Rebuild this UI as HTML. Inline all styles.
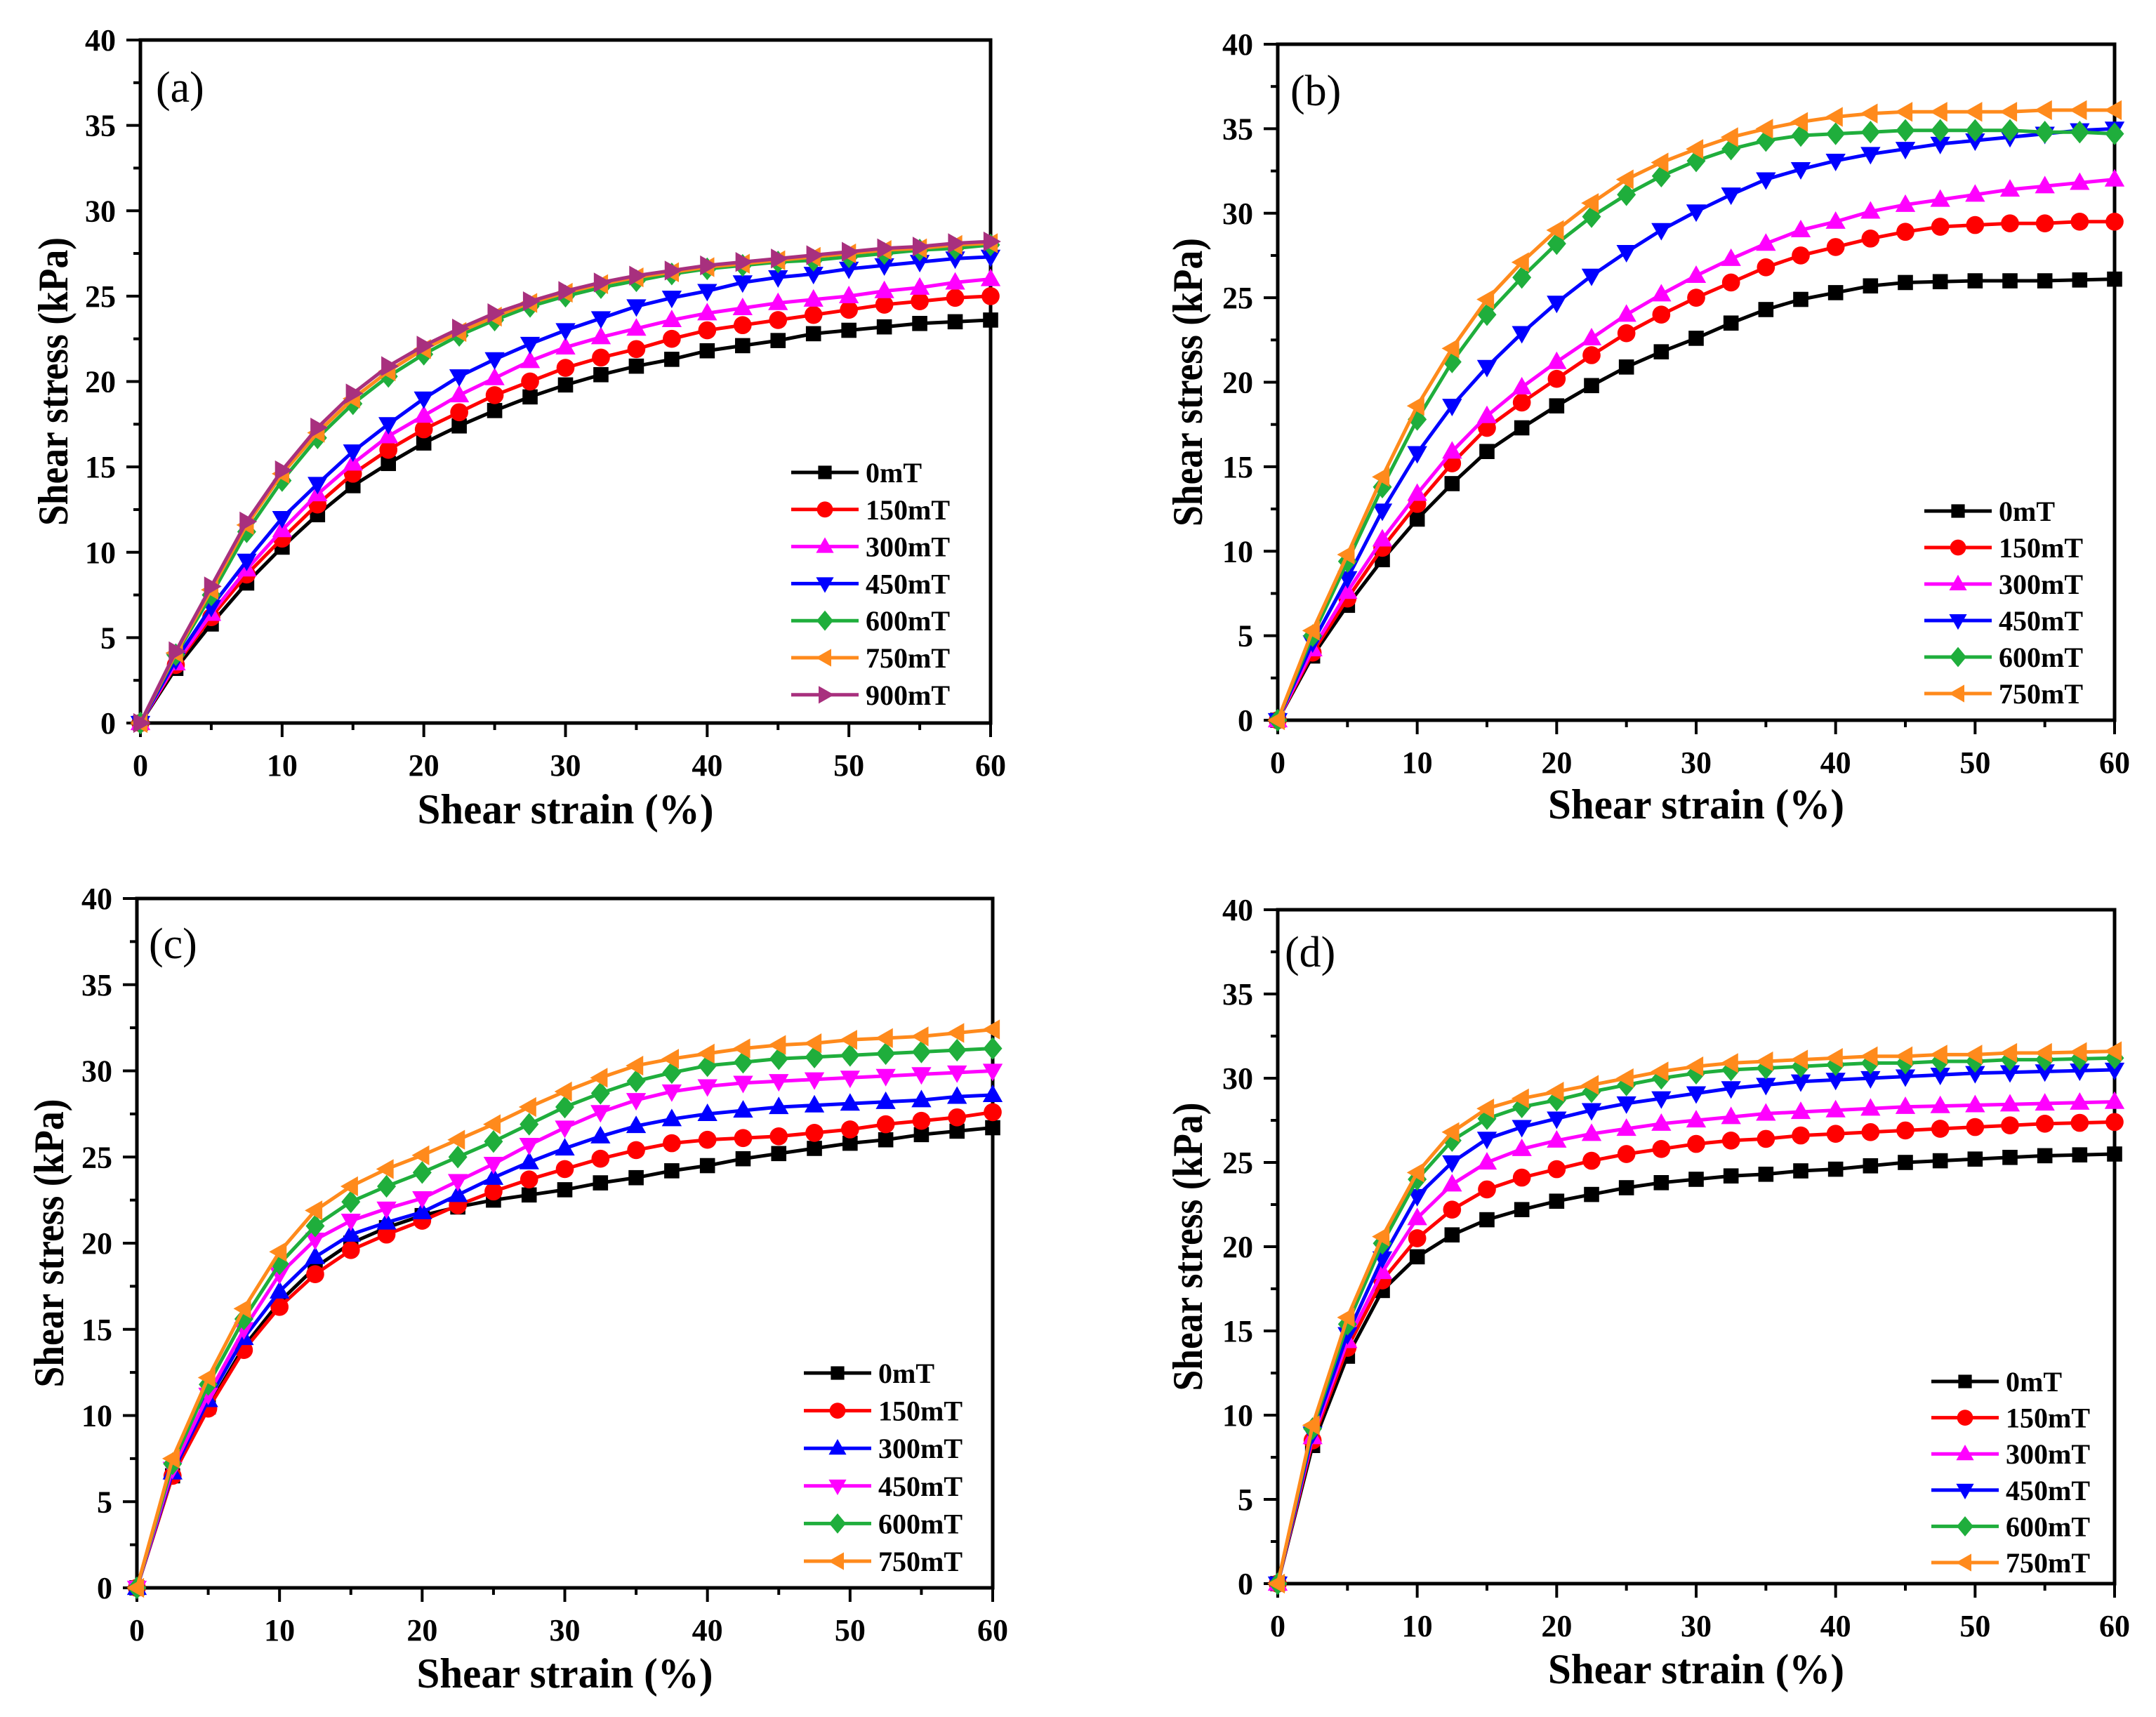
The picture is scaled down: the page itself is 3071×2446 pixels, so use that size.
<!DOCTYPE html>
<html><head><meta charset="utf-8"><style>
html,body{margin:0;padding:0;background:#fff;}
svg{display:block;}
text{font-family:"Liberation Serif","DejaVu Serif",serif;}
</style></head><body>
<svg id="fig" width="3071" height="2446" viewBox="0 0 3071 2446" xmlns="http://www.w3.org/2000/svg"></svg>
<script>
// x positions of strain samples (%)
const strain = [0,2.5,5,7.5,10,12.5,15,17.5,20,22.5,25,27.5,30,32.5,35,37.5,40,42.5,45,47.5,50,52.5,55,57.5,60];
const xTicks = [0,10,20,30,40,50,60];
const yTicks = [0,5,10,15,20,25,30,35,40];

// Panel (a)
const a0   = [0,3.2,5.8,8.2,10.3,12.2,13.9,15.2,16.4,17.4,18.3,19.1,19.8,20.4,20.9,21.3,21.8,22.1,22.4,22.8,23.0,23.2,23.4,23.5,23.6];
const a150 = [0,3.4,6.2,8.7,10.8,12.8,14.6,16,17.2,18.2,19.2,20,20.8,21.4,21.9,22.5,23,23.3,23.6,23.9,24.2,24.5,24.7,24.9,25];
const a300 = [0,3.5,6.4,9,11.3,13.4,15.2,16.8,18,19.2,20.2,21.2,22,22.6,23.1,23.6,24,24.3,24.6,24.8,25,25.3,25.5,25.8,26];
const a450 = [0,3.7,6.8,9.5,12,14,15.9,17.5,19,20.3,21.3,22.2,23,23.7,24.4,24.9,25.3,25.8,26.1,26.3,26.6,26.8,27,27.2,27.3];
const a600 = [0,4,7.5,11.2,14.2,16.7,18.7,20.3,21.6,22.7,23.6,24.4,25,25.5,25.9,26.3,26.6,26.8,27,27.1,27.3,27.5,27.7,27.8,28];
const a750 = [0,4.1,7.8,11.6,14.6,17,19,20.6,21.9,22.9,23.8,24.6,25.2,25.7,26.1,26.4,26.7,26.9,27.1,27.3,27.5,27.7,27.8,28,28.1];
const a900 = [0,4.2,8,11.8,14.8,17.3,19.3,20.9,22.1,23.1,24,24.7,25.3,25.8,26.2,26.5,26.8,27,27.2,27.4,27.6,27.8,27.9,28.1,28.2];
// Panel (b)
const b0   = [0,3.8,6.8,9.5,11.9,14,15.9,17.3,18.6,19.8,20.9,21.8,22.6,23.5,24.3,24.9,25.3,25.7,25.9,25.95,26,26,26,26.05,26.1];
const b150 = [0,4,7.2,10.2,12.8,15.2,17.3,18.8,20.2,21.6,22.9,24,25,25.9,26.8,27.5,28,28.5,28.9,29.2,29.3,29.4,29.4,29.5,29.5];
const b300 = [0,4.2,7.6,10.7,13.4,15.9,18,19.7,21.2,22.6,24,25.2,26.3,27.3,28.2,29,29.5,30.1,30.5,30.8,31.1,31.4,31.6,31.8,32];
const b450 = [0,4.6,8.4,12.4,15.8,18.6,20.9,22.9,24.7,26.3,27.7,29,30.1,31.1,32,32.6,33.1,33.5,33.8,34.1,34.3,34.5,34.7,34.9,35];
const b600 = [0,5,9.4,13.8,17.8,21.2,24,26.2,28.2,29.8,31.1,32.2,33.1,33.8,34.3,34.6,34.7,34.8,34.9,34.9,34.9,34.9,34.8,34.8,34.7];
const b750 = [0,5.3,9.8,14.4,18.6,22,24.9,27.1,29,30.6,32,33,33.8,34.5,35,35.4,35.7,35.9,36,36,36,36,36.1,36.1,36.1];
// Panel (c)
const c0   = [0,6.5,10.5,14,16.6,18.6,20,20.9,21.6,22.1,22.5,22.8,23.1,23.5,23.8,24.2,24.5,24.9,25.2,25.5,25.8,26,26.3,26.5,26.7];
const c150 = [0,6.5,10.4,13.8,16.3,18.2,19.6,20.5,21.3,22.2,23,23.7,24.3,24.9,25.4,25.8,26,26.1,26.2,26.4,26.6,26.9,27.1,27.3,27.6];
const c300 = [0,6.7,10.9,14.5,17.2,19.2,20.5,21.2,21.8,22.8,23.8,24.7,25.5,26.2,26.8,27.2,27.5,27.7,27.9,28,28.1,28.2,28.3,28.5,28.6];
const c450 = [0,6.9,11.2,15,18.2,20.2,21.3,22,22.6,23.6,24.6,25.7,26.7,27.6,28.3,28.8,29.1,29.3,29.4,29.5,29.6,29.7,29.8,29.9,30];
const c600 = [0,7.2,11.8,15.6,18.8,21,22.4,23.3,24.1,25,25.9,26.9,27.9,28.7,29.4,29.9,30.3,30.5,30.7,30.8,30.9,31,31.1,31.2,31.3];
const c750 = [0,7.5,12.2,16.2,19.5,21.9,23.3,24.3,25.1,26,26.9,27.9,28.8,29.6,30.3,30.7,31,31.3,31.5,31.6,31.8,31.9,32,32.2,32.4];
// Panel (d)
const d0   = [0,8.2,13.5,17.4,19.4,20.7,21.6,22.2,22.7,23.1,23.5,23.8,24,24.2,24.3,24.5,24.6,24.8,25,25.1,25.2,25.3,25.4,25.45,25.5];
const d150 = [0,8.5,14,18,20.5,22.2,23.4,24.1,24.6,25.1,25.5,25.8,26.1,26.3,26.4,26.6,26.7,26.8,26.9,27,27.1,27.2,27.3,27.35,27.4];
const d300 = [0,8.7,14.4,18.5,21.7,23.7,25,25.8,26.3,26.7,27,27.3,27.5,27.7,27.9,28,28.1,28.2,28.3,28.35,28.4,28.45,28.5,28.55,28.6];
const d450 = [0,8.9,14.8,19.3,23,25,26.4,27.1,27.6,28.1,28.5,28.8,29.1,29.4,29.6,29.8,29.9,30,30.1,30.2,30.3,30.35,30.4,30.45,30.5];
const d600 = [0,9.2,15.4,20.2,24,26.3,27.6,28.3,28.7,29.2,29.6,30,30.3,30.5,30.6,30.7,30.8,30.9,30.9,31,31,31.1,31.1,31.15,31.2];
const d750 = [0,9.4,15.8,20.6,24.4,26.8,28.2,28.8,29.2,29.6,30,30.4,30.7,30.9,31,31.1,31.2,31.3,31.3,31.4,31.4,31.5,31.5,31.55,31.6];

const NS="http://www.w3.org/2000/svg";
const svg=document.getElementById('fig');
function mk(tag,attrs,parent){const e=document.createElementNS(NS,tag);for(const k in attrs)e.setAttribute(k,attrs[k]);(parent||svg).appendChild(e);return e;}

const C={k:'#000000',r:'#ff0000',m:'#ff00ff',b:'#0000ff',g:'#1fae3c',o:'#ff8a1c',p:'#a8307e'};

function marker(g,shape,x,y,col,s){
  let e;
  if(shape==='sq') e=mk('rect',{x:x-s*0.8,y:y-s*0.8,width:s*1.6,height:s*1.6,fill:col},g);
  else if(shape==='ci') e=mk('circle',{cx:x,cy:y,r:s*0.95,fill:col},g);
  else {
    let p;
    if(shape==='up') p=[[x,y-s*1.1],[x+s*1.05,y+s*0.75],[x-s*1.05,y+s*0.75]];
    else if(shape==='dn') p=[[x,y+s*1.1],[x+s*1.05,y-s*0.75],[x-s*1.05,y-s*0.75]];
    else if(shape==='di') p=[[x,y-s*1.2],[x+s*1.0,y],[x,y+s*1.2],[x-s*1.0,y]];
    else if(shape==='lt') p=[[x-s*1.1,y],[x+s*0.75,y-s*1.05],[x+s*0.75,y+s*1.05]];
    else p=[[x+s*1.1,y],[x-s*0.75,y-s*1.05],[x-s*0.75,y+s*1.05]];
    e=mk('polygon',{points:p.map(q=>q.join(',')).join(' '),fill:col},g);
  }
  return e;
}

function panel(cfg){
  const {id,L,T,R,B,series,legX,legY,legDy,lab,labX,labY,yTitleX,xTitleY}=cfg;
  const g=mk('g',{});
  
  
  const xs=v=>L+(v-0)/(60-0)*(R-L);
  const ys=v=>B-(v-0)/(40-0)*(B-T);
  const fr=mk('rect',{x:L,y:T,width:R-L,height:B-T,fill:'none',stroke:'#000','stroke-width':5},g);
  
  
  for(let v=0;v<=60;v+=5){
    const major=v%10===0;
    const t=mk('line',{x1:xs(v),x2:xs(v),y1:B,y2:B+(major?20:10),stroke:'#000','stroke-width':4},g);
    
    
  }
  xTicks.forEach(v=>{
    const t=mk('text',{x:xs(v),y:B+75,'text-anchor':'middle','font-size':44,'font-weight':'bold'},g);
    t.textContent=v;
    
    
  });
  for(let v=0;v<=40;v+=2.5){
    const major=v%5===0;
    const t=mk('line',{x1:L,x2:L-(major?20:10),y1:ys(v),y2:ys(v),stroke:'#000','stroke-width':4},g);
    
    
  }
  yTicks.forEach(v=>{
    const t=mk('text',{x:L-35,y:ys(v)+15,'text-anchor':'end','font-size':44,'font-weight':'bold'},g);
    t.textContent=v;
    
    
  });
  const xt=mk('text',{x:(L+R)/2,y:xTitleY,'text-anchor':'middle','font-size':60,'font-weight':'bold',textLength:422,lengthAdjust:'spacingAndGlyphs'},g);
  xt.textContent='Shear strain (%)';
  
  
  const yc=(T+B)/2;
  const yt=mk('text',{x:yTitleX,y:yc,'text-anchor':'middle','font-size':60,'font-weight':'bold',textLength:411,lengthAdjust:'spacingAndGlyphs',transform:`rotate(-90 ${yTitleX} ${yc})`},g);
  yt.textContent='Shear stress (kPa)';
  
  
  const pl=mk('text',{x:labX,y:labY,'font-size':62},g);
  pl.textContent=lab;
  
  
  series.forEach((s,i)=>{
    const sg=mk('g',{},g);
    
    
    const pts=strain.map((x,j)=>xs(x).toFixed(1)+','+ys(s.data[j]).toFixed(1)).join(' ');
    const ln=mk('polyline',{points:pts,fill:'none',stroke:s.col,'stroke-width':5},sg);
    
    
    strain.forEach((x,j)=>{
      const m=marker(sg,s.shape,xs(x),ys(s.data[j]),s.col,13.5);
      
      
    });
    const lg=mk('g',{},g);
    
    
    const ly=legY+i*legDy;
    mk('line',{x1:legX,x2:legX+96,y1:ly,y2:ly,stroke:s.col,'stroke-width':5},lg);
    marker(lg,s.shape,legX+48,ly,s.col,12);
    const lt=mk('text',{x:legX+106,y:ly+14,'font-size':40,'font-weight':'bold'},lg);
    lt.textContent=s.name;
  });
}

panel({id:'a',L:200,T:57,R:1411,B:1030,lab:'(a)',labX:222,labY:145,yTitleX:96,xTitleY:1173,
  legX:1127,legY:673,legDy:52.8,
  series:[{name:'0mT',data:a0,col:C.k,shape:'sq'},{name:'150mT',data:a150,col:C.r,shape:'ci'},
  {name:'300mT',data:a300,col:C.m,shape:'up'},{name:'450mT',data:a450,col:C.b,shape:'dn'},
  {name:'600mT',data:a600,col:C.g,shape:'di'},{name:'750mT',data:a750,col:C.o,shape:'lt'},
  {name:'900mT',data:a900,col:C.p,shape:'rt'}]});
panel({id:'b',L:1820,T:63,R:3012,B:1026,lab:'(b)',labX:1838,labY:150,yTitleX:1712,xTitleY:1166,
  legX:2741,legY:728,legDy:52,
  series:[{name:'0mT',data:b0,col:C.k,shape:'sq'},{name:'150mT',data:b150,col:C.r,shape:'ci'},
  {name:'300mT',data:b300,col:C.m,shape:'up'},{name:'450mT',data:b450,col:C.b,shape:'dn'},
  {name:'600mT',data:b600,col:C.g,shape:'di'},{name:'750mT',data:b750,col:C.o,shape:'lt'}]});
panel({id:'c',L:195,T:1280,R:1414,B:2262,lab:'(c)',labX:212,labY:1365,yTitleX:90,xTitleY:2404,
  legX:1145,legY:1956,legDy:53.6,
  series:[{name:'0mT',data:c0,col:C.k,shape:'sq'},{name:'150mT',data:c150,col:C.r,shape:'ci'},
  {name:'300mT',data:c300,col:C.b,shape:'up'},{name:'450mT',data:c450,col:C.m,shape:'dn'},
  {name:'600mT',data:c600,col:C.g,shape:'di'},{name:'750mT',data:c750,col:C.o,shape:'lt'}]});
panel({id:'d',L:1820,T:1296,R:3012,B:2256,lab:'(d)',labX:1830,labY:1377,yTitleX:1712,xTitleY:2398,
  legX:2751,legY:1968,legDy:51.6,
  series:[{name:'0mT',data:d0,col:C.k,shape:'sq'},{name:'150mT',data:d150,col:C.r,shape:'ci'},
  {name:'300mT',data:d300,col:C.m,shape:'up'},{name:'450mT',data:d450,col:C.b,shape:'dn'},
  {name:'600mT',data:d600,col:C.g,shape:'di'},{name:'750mT',data:d750,col:C.o,shape:'lt'}]});
</script>
</body></html>
